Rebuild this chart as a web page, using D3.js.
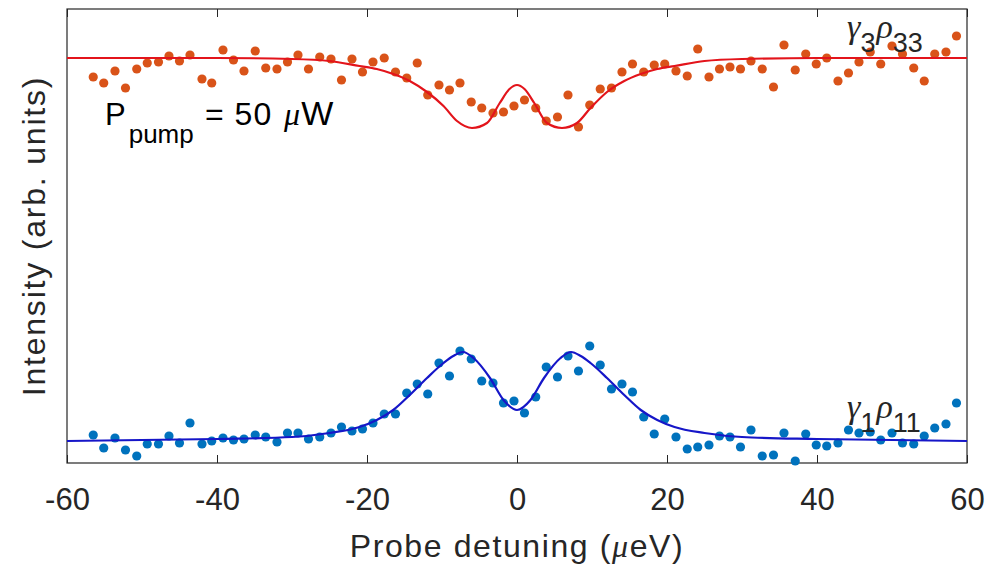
<!DOCTYPE html>
<html>
<head>
<meta charset="utf-8">
<script src="https://cdn.jsdelivr.net/npm/d3@7/dist/d3.min.js"></script>
<style>
	body { margin: 0; background: #ffffff; }
</style>
</head>
<body>
<div class="graph"></div>
<script>

//data (x in ueV, intensity in arb. units)

var detuning = [-56.5,-55.1,-53.6,-52.2,-50.7,-49.3,-47.8,-46.4,-45.0,-43.6,-42.0,-40.7,-39.2,-37.8,-36.4,-34.9,-33.5,-32.0,-30.6,-29.2,-27.8,-26.3,-24.8,-23.4,-22.0,-20.6,-19.2,-17.7,-16.2,-14.7,-13.3,-11.9,-10.4,-9.0,-7.6,-6.1,-4.7,-3.2,-1.8,-0.4,1.0,2.5,3.9,5.4,6.8,8.2,9.7,11.1,12.6,14.0,15.4,16.9,18.3,19.7,21.2,22.7,24.1,25.6,27.0,28.4,29.8,31.2,32.7,34.2,35.6,37.1,38.5,39.9,41.3,42.8,44.2,45.6,47.1,48.5,50.0,51.4,52.9,54.3,55.7,57.2,58.6];

var rho33 = [3.86,3.80,3.92,3.75,3.94,4.00,4.01,4.07,4.02,4.08,3.84,3.80,4.13,4.03,3.92,4.12,3.95,3.94,4.01,4.08,3.94,4.06,4.04,3.83,4.04,3.91,4.01,4.05,3.91,3.85,4.00,3.68,3.78,3.73,3.80,3.61,3.55,3.50,3.51,3.57,3.63,3.55,3.42,3.46,3.68,3.36,3.58,3.74,3.75,3.91,3.99,3.91,3.98,3.99,3.92,3.87,4.14,3.86,3.94,3.96,3.94,4.02,3.94,3.76,4.18,3.93,4.09,3.99,4.05,3.82,3.90,4.01,4.11,3.99,4.17,4.09,3.95,3.82,4.09,4.11,4.27];

var rho11 = [0.28,0.15,0.25,0.13,0.07,0.19,0.19,0.27,0.20,0.40,0.19,0.22,0.25,0.23,0.24,0.28,0.26,0.21,0.30,0.30,0.24,0.26,0.30,0.36,0.32,0.34,0.40,0.49,0.49,0.70,0.79,0.69,1.00,0.87,1.12,1.04,0.82,0.80,0.60,0.62,0.50,0.66,0.96,0.86,1.07,0.92,1.17,0.98,0.74,0.79,0.71,0.46,0.29,0.44,0.26,0.14,0.16,0.18,0.27,0.26,0.16,0.33,0.07,0.08,0.30,0.02,0.29,0.18,0.17,0.20,0.33,0.30,0.31,0.23,0.30,0.20,0.19,0.27,0.35,0.39,0.60];

var fitX = [-60,-40,-30,-25,-21,-18.7,-16.5,-14.3,-12,-9.8,-8,-6,-4,-2.3,-1,0,1,2.3,4,6,8,9.8,12,14.3,16.5,18.7,21,25,30,40,60];
var fit33 = [4.05,4.05,4.04,4.02,3.97,3.94,3.89,3.82,3.71,3.57,3.42,3.35,3.40,3.60,3.74,3.78,3.74,3.60,3.40,3.35,3.40,3.55,3.71,3.82,3.89,3.94,3.97,4.02,4.04,4.05,4.05];

var fitX11 = [-60,-40,-30,-25,-21,-18.7,-16.5,-14.3,-12,-9.8,-8.5,-7.2,-5.8,-3.6,-1.8,0,1.8,3.6,5.8,7.2,8.5,9.8,12,14.3,16.5,18.7,21,25,30,40,60];
var fit11 = [0.22,0.24,0.26,0.30,0.36,0.43,0.53,0.68,0.85,1.00,1.07,1.11,1.05,0.85,0.63,0.53,0.63,0.85,1.05,1.11,1.07,1.00,0.85,0.68,0.53,0.43,0.36,0.30,0.26,0.24,0.22];

var xTicks = [-60,-40,-20,0,20,40,60];

//prepare SVG

var svgWidth = 996;
var svgHeight = 566;
var plotLeft = 67, plotRight = 967, plotTop = 9, plotBottom = 463;
var fontSans = "'Liberation Sans', Arial, Helvetica, sans-serif";
var fontSerif = "'Liberation Serif', 'Times New Roman', serif";

var svg = d3.select("div.graph")
		.append("svg")
		.attr("width", svgWidth)
		.attr("height", svgHeight)
		.style("background-color", "#ffffff");

var x = d3.scaleLinear().domain([-60, 60]).range([plotLeft, plotRight]);
var y = d3.scaleLinear().domain([0, 4.54]).range([plotBottom, plotTop]);

//axes and box

var xAxis = d3.axisBottom(x)
		.tickValues(xTicks)
		.tickSize(-8)
		.tickPadding(25)
		.tickFormat(function(d) { return String(d); });

var xAxisTop = d3.axisTop(x)
		.tickValues(xTicks)
		.tickSize(-8)
		.tickFormat("");

var gAxisX = svg.append("g").attr("transform", "translate(0," + plotBottom + ")").call(xAxis);
var gAxisTop = svg.append("g").attr("transform", "translate(0," + plotTop + ")").call(xAxisTop);

[gAxisX, gAxisTop].forEach(function(g) {
	g.select(".domain").remove();
	g.selectAll("line").attr("stroke", "#262626").attr("stroke-width", 1);
});

gAxisX.selectAll("text")
	.attr("font-family", fontSans)
	.attr("font-size", 31)
	.attr("fill", "#262626");

svg.append("rect")
	.attr("x", plotLeft)
	.attr("y", plotTop)
	.attr("width", plotRight - plotLeft)
	.attr("height", plotBottom - plotTop)
	.attr("fill", "none")
	.attr("stroke", "#262626")
	.attr("stroke-width", 1.2);

//labels

svg.append("text")
	.attr("x", (plotLeft + plotRight) / 2)
	.attr("y", 557)
	.attr("text-anchor", "middle")
	.attr("font-family", fontSans)
	.attr("font-size", 32)
	.attr("letter-spacing", 1.6)
	.attr("fill", "#262626")
	.call(function(t) {
		t.append("tspan").text("Probe detuning (");
		t.append("tspan").attr("font-family", fontSerif).attr("font-style", "italic").text("\u03bc");
		t.append("tspan").text("eV)");
	});

svg.append("text")
	.attr("transform", "translate(45," + (plotTop + plotBottom) / 2 + ") rotate(-90)")
	.attr("text-anchor", "middle")
	.attr("font-family", fontSans)
	.attr("font-size", 32)
	.attr("letter-spacing", 1.8)
	.attr("fill", "#262626")
	.text("Intensity (arb. units)");

//data

var line = d3.line()
		.x(function(d) { return x(d[0]); })
		.y(function(d) { return y(d[1]); })
		.curve(d3.curveMonotoneX);

var gDots = svg.append("g");

gDots.selectAll("circle.r33")
	.data(d3.zip(detuning, rho33))
	.enter()
	.append("circle")
	.attr("class", "r33")
	.attr("cx", function(d) { return x(d[0]); })
	.attr("cy", function(d) { return y(d[1]); })
	.attr("r", 4.6)
	.attr("fill", "#D95319");

gDots.selectAll("circle.r11")
	.data(d3.zip(detuning, rho11))
	.enter()
	.append("circle")
	.attr("class", "r11")
	.attr("cx", function(d) { return x(d[0]); })
	.attr("cy", function(d) { return y(d[1]); })
	.attr("r", 4.6)
	.attr("fill", "#0072BD");

svg.append("path")
	.datum(d3.zip(fitX, fit33))
	.attr("d", line)
	.attr("fill", "none")
	.attr("stroke", "#E3141B")
	.attr("stroke-width", 2.2);

svg.append("path")
	.datum(d3.zip(fitX11, fit11))
	.attr("d", line)
	.attr("fill", "none")
	.attr("stroke", "#1616C8")
	.attr("stroke-width", 2.2);

//annotations

function greekLabel(xPos, yPos, g1, s1, g2, s2) {
	var t = svg.append("text")
		.attr("x", xPos)
		.attr("y", yPos)
		.attr("fill", "#262626")
		.attr("font-size", 34);
	t.append("tspan").attr("font-family", fontSerif).attr("font-style", "italic").text(g1);
	t.append("tspan").attr("font-family", fontSans).attr("font-size", 27).attr("dy", 14).text(s1);
	t.append("tspan").attr("font-family", fontSerif).attr("font-style", "italic").attr("dx", 1).attr("dy", -14).text(g2);
	t.append("tspan").attr("font-family", fontSans).attr("font-size", 27).attr("dy", 14).text(s2);
}

greekLabel(847, 38, "\u03b3", "3", "\u03c1", "33");
greekLabel(847, 418, "\u03b3", "1", "\u03c1", "11");

var pText = svg.append("text")
	.attr("x", 105)
	.attr("y", 125)
	.attr("fill", "#000000")
	.attr("font-family", fontSans)
	.attr("font-size", 31);
pText.append("tspan").text("P");
pText.append("tspan").attr("font-size", 26).attr("dy", 18).attr("dx", 3).text("pump");

var eqText = svg.append("text")
	.attr("x", 205)
	.attr("y", 125)
	.attr("fill", "#000000")
	.attr("font-family", fontSans)
	.attr("font-size", 32)
	.attr("letter-spacing", 1);
eqText.append("tspan").text("= 50 ");
eqText.append("tspan").attr("font-family", fontSerif).attr("font-style", "italic").attr("dx", 2).text("\u03bc");
eqText.append("tspan").attr("font-size", 34).text("W");

</script>
</body>
</html>
